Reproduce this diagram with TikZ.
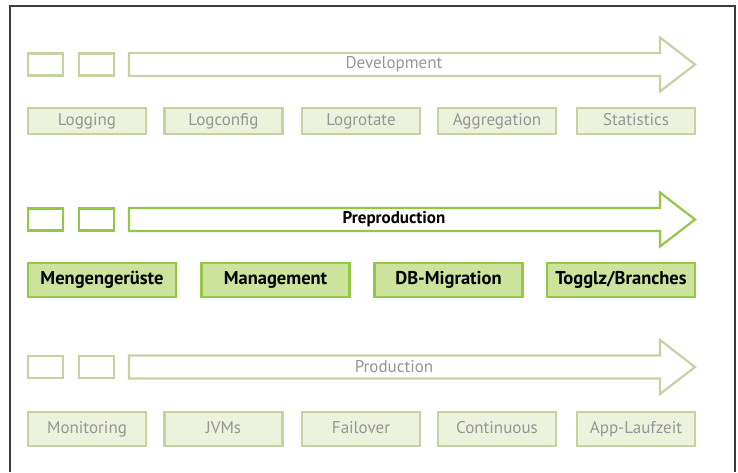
\documentclass[tikz,border=0pt]{standalone}
\usepackage{fontspec}
\setmainfont{PT Sans}
\definecolor{paleline}{HTML}{C5D3A2}
\definecolor{palefill}{HTML}{EDF2DD}
\definecolor{paletext}{HTML}{969696}
\definecolor{brightline}{HTML}{93C746}
\definecolor{brightfill}{HTML}{CCE39C}
\definecolor{framegrey}{HTML}{3C3C3C}
\tikzset{
  task/.style={draw=paleline, fill=palefill, line width=2.2pt, text=paletext,
    minimum width=118pt, minimum height=34pt, inner sep=0pt,
    text height=12pt, text depth=3.5pt,
    font=\fontsize{17}{20}\selectfont},
  keytask/.style={task, draw=brightline, fill=brightfill, text=black,
    minimum width=148pt, font=\fontsize{18.5}{22}\selectfont\bfseries},
  marker/.style={draw=#1, line width=2.2pt, minimum width=35pt,
    minimum height=22pt, inner sep=0pt},
  stage/.style={draw=#1, fill=white, line width=2.2pt, line join=miter},
  stagetext/.style={font=\fontsize{17}{20}\selectfont, text=paletext},
}
\begin{document}
\begin{tikzpicture}[x=1pt,y=-1pt]
\useasboundingbox (0,0) rectangle (738,472);
% frame, open at the bottom
\draw[framegrey, line width=1.8pt] (10,472) -- (10,6) -- (735,6) -- (735,472);

% stage arrows
\foreach \y/\c in {64.5/paleline, 219.5/brightline, 367/paleline} {
  \node[marker=\c] at (45.5,\y) {};
  \node[marker=\c] at (96.5,\y) {};
  \draw[stage=\c] (129,\y-11.5) -- (660,\y-11.5) -- (660,\y-27) -- (695,\y)
    -- (660,\y+27) -- (660,\y+11.5) -- (129,\y+11.5) -- cycle;
}
\node (dev) [stagetext] at (394,64.5) {Development};
\node (preprod) [stagetext, text=black, font=\fontsize{17}{20}\selectfont\bfseries] at (394,219.5) {Preproduction};
\node (prod) [stagetext] at (394,367) {Production};

% development
\node (logging) [task, minimum height=26pt] at (87,121) {Logging};
\node (logconfig) [task, minimum height=26pt] at (223.5,121) {Logconfig};
\node (logrotate) [task, minimum height=26pt] at (361,121) {Logrotate};
\node (aggregation) [task, minimum height=26pt] at (497,121) {Aggregation};
\node (statistics) [task, minimum height=26pt] at (636,121) {Statistics};

% preproduction
\node (mengen) [keytask] at (102,280) {Mengengerüste};
\node (management) [keytask] at (275.5,280) {Management};
\node (dbmigration) [keytask] at (448.5,280) {DB-Migration};
\node (togglz) [keytask] at (621,280) {Togglz/Branches};

% production
\node (monitoring) [task] at (87,429) {Monitoring};
\node (jvms) [task] at (223.5,429) {JVMs};
\node (failover) [task] at (361,429) {Failover};
\node (continuous) [task] at (497,429) {Continuous};
\node (laufzeit) [task] at (636,429) {App-Laufzeit};
\end{tikzpicture}
\end{document}
